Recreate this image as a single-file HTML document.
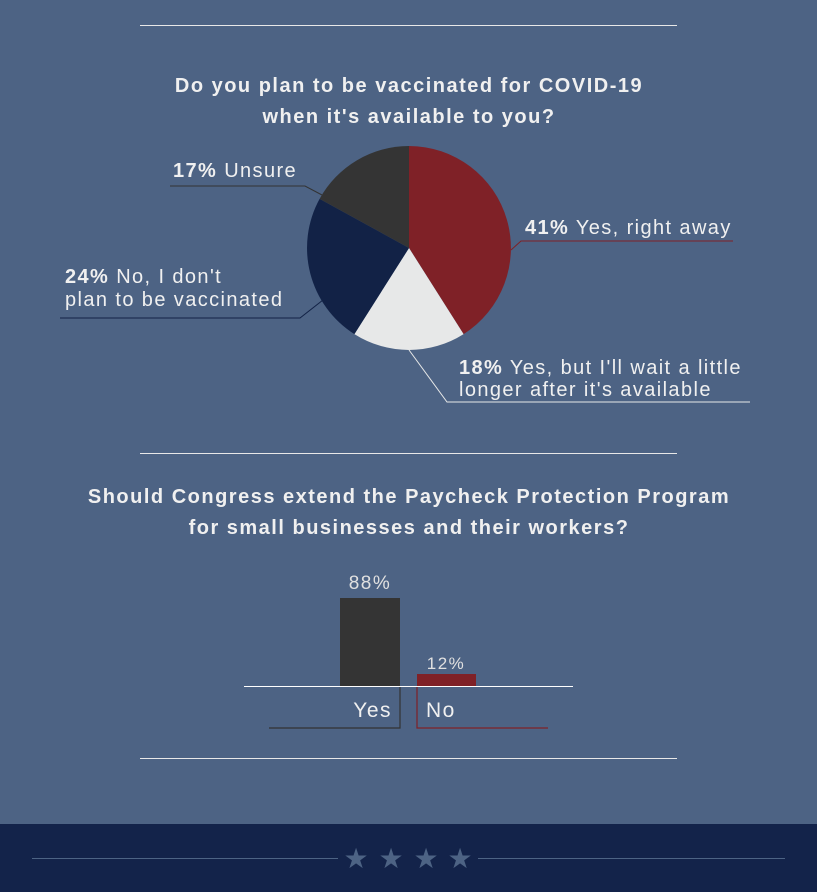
<!DOCTYPE html>
<html><head><style>
body{margin:0;width:817px;height:892px;background:#4d6384;overflow:hidden;font-family:"Liberation Sans",sans-serif;}
</style></head><body>
<svg width="817" height="892" viewBox="0 0 817 892" xmlns="http://www.w3.org/2000/svg" style="position:absolute;left:0;top:0">
<rect width="817" height="892" fill="#4d6384"/>
<g stroke="#e8e8e8" stroke-width="1">
<line x1="140" y1="25.5" x2="677" y2="25.5"/>
<line x1="140" y1="453.5" x2="677" y2="453.5"/>
<line x1="140" y1="758.5" x2="677" y2="758.5"/>
</g>
<g font-family="Liberation Sans, sans-serif" font-weight="bold" font-size="20" fill="#f0f0f0" text-anchor="middle" letter-spacing="1.5">
<text x="409" y="92">Do you plan to be vaccinated for COVID-19</text>
<text x="409" y="123">when it's available to you?</text>
<text x="409" y="503">Should Congress extend the Paycheck Protection Program</text>
<text x="409" y="534">for small businesses and their workers?</text>
</g>
<!-- pie -->
<path d="M409,248 L409,146 A102,102 0 0 1 463.6,334.1 Z" fill="#7f2127"/>
<path d="M409,248 L463.6,334.1 A102,102 0 0 1 354.4,334.1 Z" fill="#e7e8e8"/>
<path d="M409,248 L354.4,334.1 A102,102 0 0 1 319.6,198.9 Z" fill="#122246"/>
<path d="M409,248 L319.6,198.9 A102,102 0 0 1 409,146 Z" fill="#343434"/>
<g fill="none" stroke-width="1">
<polyline points="170,186 305,186 322,195" stroke="#333"/>
<polyline points="511,250 521,241 733,241" stroke="#7f2127"/>
<polyline points="60,318 300,318 323,300" stroke="#122246"/>
<polyline points="409,350 447,402 750,402" stroke="#e7e8e8"/>
</g>
<g font-family="Liberation Sans, sans-serif" font-size="20" fill="#f0f0f0" letter-spacing="1.4">
<text x="173" y="177"><tspan font-weight="bold">17%</tspan> Unsure</text>
<text x="525" y="234"><tspan font-weight="bold">41%</tspan> Yes, right away</text>
<text x="65" y="283"><tspan font-weight="bold">24%</tspan> No, I don't</text>
<text x="65" y="306">plan to be vaccinated</text>
<text x="459" y="374"><tspan font-weight="bold">18%</tspan> Yes, but I'll wait a little</text>
<text x="459" y="396">longer after it's available</text>
</g>
<!-- bars -->
<rect x="340" y="598" width="60" height="88" fill="#343434"/>
<rect x="417" y="674" width="59" height="12" fill="#7f2127"/>
<line x1="244" y1="686.5" x2="573" y2="686.5" stroke="#fff" stroke-width="1"/>
<polyline points="400,687 400,728 269,728" fill="none" stroke="#333" stroke-width="1.2"/>
<polyline points="417,687 417,728 548,728" fill="none" stroke="#7f2127" stroke-width="1.2"/>
<g font-family="Liberation Sans, sans-serif" fill="#e0e0e0" letter-spacing="1.5">
<text x="370" y="589" font-size="19" text-anchor="middle">88%</text>
<text x="446" y="669" font-size="17" text-anchor="middle">12%</text>
<text x="392" y="717" font-size="21" text-anchor="end" fill="#f0f0f0">Yes</text>
<text x="426" y="717" font-size="21" fill="#f0f0f0">No</text>
</g>
<!-- footer -->
<rect x="0" y="824" width="817" height="68" fill="#13234a"/>
<g stroke="#4d6384" stroke-width="1">
<line x1="32" y1="858.5" x2="338" y2="858.5"/>
<line x1="478" y1="858.5" x2="785" y2="858.5"/>
</g>
<g font-size="28" fill="#4d6384" text-anchor="middle" font-family="DejaVu Sans, sans-serif">
<text x="356" y="868">★</text>
<text x="391" y="868">★</text>
<text x="426" y="868">★</text>
<text x="460" y="868">★</text>
</g>
</svg>
</body></html>
